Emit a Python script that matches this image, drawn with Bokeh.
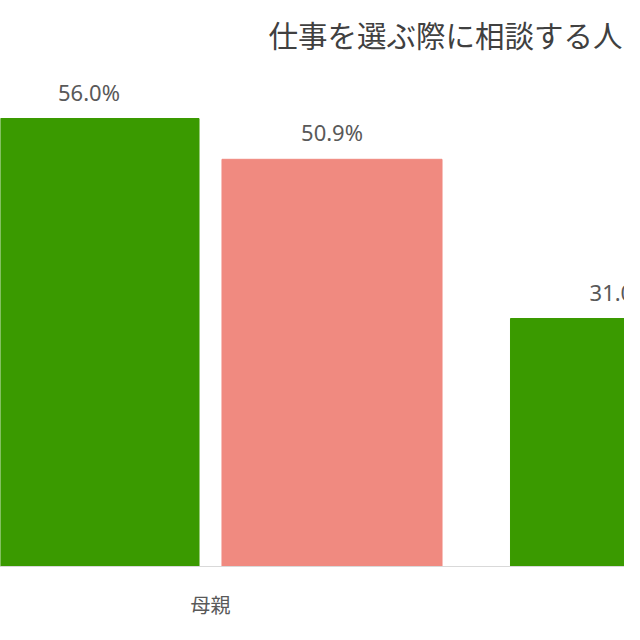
from bokeh.plotting import figure
from bokeh.models import ColumnDataSource, Range1d, FixedTicker, Label
from bokeh.core.properties import value
from bokeh.embed import file_html
from bokeh.resources import INLINE

# datos (solo lo visible)
grupos = ["母親"]
pos_grupo = [0, 1]
verde_vals = [56.0, 31.0]     # serie verde
rosa_vals = [50.9]            # serie salmon
titulo = "仕事を選ぶ際に相談する人"

VERDE = "#3a9a00"
ROSA = "#f08a80"
GRIS = "#595959"
FUENTE = "Noto Sans CJK JP"

ancho_barra = 0.414
desp = 0.2286

src_verde = ColumnDataSource(dict(
    x=[g - desp for g in pos_grupo[:len(verde_vals)]],
    y=verde_vals,
    txt=[f"{v:.1f}%" for v in verde_vals],
))
src_rosa = ColumnDataSource(dict(
    x=[g + desp for g in pos_grupo[:len(rosa_vals)]],
    y=rosa_vals,
    txt=[f"{v:.1f}%" for v in rosa_vals],
))

p = figure(
    width=624, height=624,
    x_range=Range1d(-0.3951, 0.7789),
    y_range=Range1d(0, 70.75),
    output_backend="svg", toolbar_location=None,
    min_border_left=0, min_border_right=0, min_border_top=0,
    min_border_bottom=58,
)
p.outline_line_color = None
p.grid.visible = False
p.yaxis.visible = False

p.vbar(x="x", top="y", width=ancho_barra, bottom=0, color=VERDE, source=src_verde)
p.vbar(x="x", top="y", width=ancho_barra, bottom=0, color=ROSA, source=src_rosa)

for s in (src_verde, src_rosa):
    p.text(x="x", y="y", text="txt", source=s, text_align="center",
           text_baseline="alphabetic", y_offset=-27,
           text_font=value("Noto Sans"), text_font_size="22px",
           text_color=GRIS)

# eje x
ax = p.xaxis[0]
ax.ticker = FixedTicker(ticks=pos_grupo[:len(grupos)])
ax.major_label_overrides = {pos_grupo[i]: g for i, g in enumerate(grupos)}
ax.axis_line_color = "#d9d9d9"
ax.major_tick_line_color = None
ax.minor_tick_line_color = None
ax.major_tick_out = 0
ax.major_label_standoff = 23
ax.major_label_text_font = FUENTE
ax.major_label_text_font_size = "20px"
ax.major_label_text_color = GRIS

# titulo, alineado a la derecha para que quepa entero
p.add_layout(Label(x=0.7752, y=66.6, text=titulo, text_align="right",
                   text_baseline="middle",
                   text_font=FUENTE, text_font_size="29.5px",
                   text_color="#404040"))

open("out.html", "w").write(file_html(p, INLINE))
